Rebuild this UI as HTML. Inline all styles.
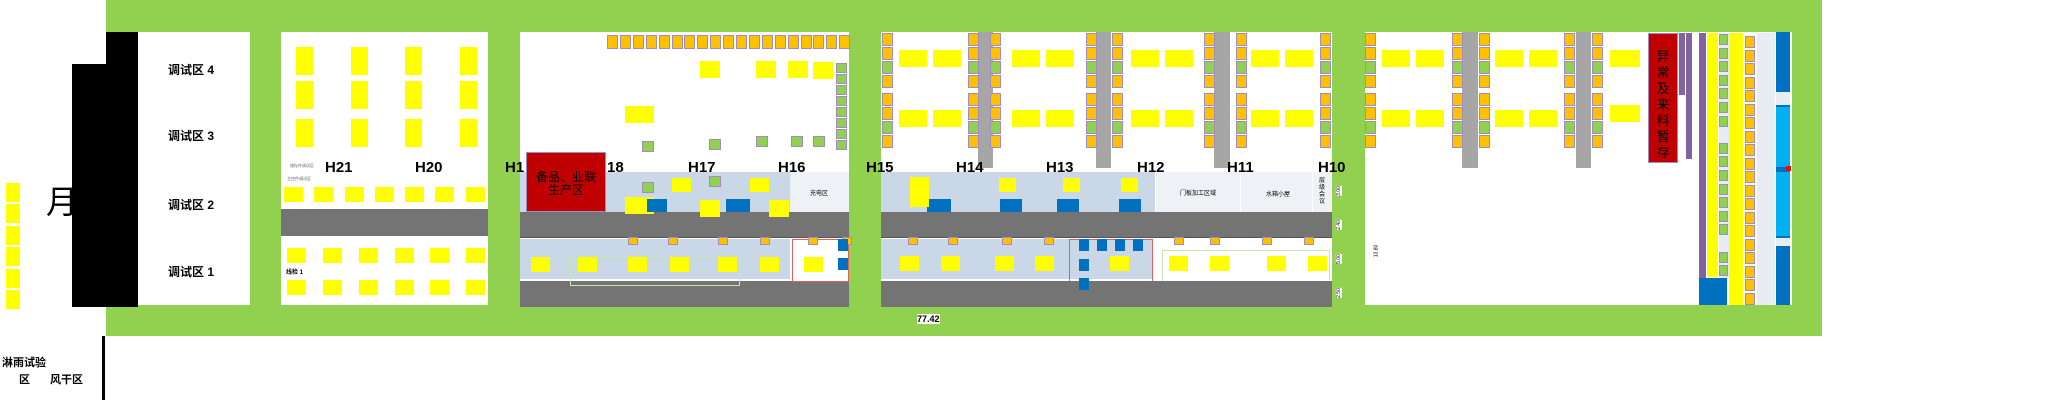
<!DOCTYPE html>
<html><head><meta charset="utf-8">
<style>
html,body{margin:0;padding:0;background:#fff;}
#root{position:relative;width:2048px;height:403px;overflow:hidden;background:#fff;font-family:"Liberation Sans","Noto Sans CJK SC",sans-serif;}
.a{position:absolute;box-sizing:border-box;}
.g{background:#92d050;}
.y{background:#ffff00;}
.o{background:#ffc000;border:1px solid #a08cc0;}
.gr{background:#92d050;border:1px solid #a08cc0;}
.band{background:#747474;}
.lb{background:#c9d7e6;}
.H{font-weight:bold;font-size:15px;color:#000;line-height:15px;}
</style></head><body>
<div id="root">
<div class="a g" style="left:106px;top:0;width:1716px;height:32px"></div>
<div class="a g" style="left:106px;top:305px;width:1716px;height:31px"></div>
<div class="a g" style="left:250px;top:32px;width:31px;height:273px"></div>
<div class="a g" style="left:488px;top:32px;width:32px;height:273px"></div>
<div class="a g" style="left:849px;top:32px;width:32px;height:273px"></div>
<div class="a g" style="left:1332px;top:32px;width:33px;height:273px"></div>
<div class="a g" style="left:1792px;top:32px;width:30px;height:273px"></div>
<div class="a" style="left:106px;top:32px;width:32px;height:40px;background:#000"></div>
<div class="a" style="left:72px;top:64px;width:66px;height:243px;background:#000"></div>
<div class="a" style="left:46px;top:184px;font-size:32px;line-height:36px">月</div>
<div class="a" style="left:168px;top:61px;font-size:12px;font-weight:bold">调试区 4</div>
<div class="a" style="left:168px;top:127px;font-size:12px;font-weight:bold">调试区 3</div>
<div class="a" style="left:168px;top:196px;font-size:12px;font-weight:bold">调试区 2</div>
<div class="a" style="left:168px;top:263px;font-size:12px;font-weight:bold">调试区 1</div>
<div class="a" style="left:102px;top:336px;width:3px;height:64px;background:#000"></div>
<div class="a" style="left:2px;top:354px;font-size:11px;font-weight:bold">淋雨试验</div>
<div class="a" style="left:19px;top:371px;font-size:11px;font-weight:bold">区</div>
<div class="a" style="left:50px;top:371px;font-size:11px;font-weight:bold">风干区</div>
<div class="a band" style="left:281px;top:209px;width:207px;height:27px"></div>
<div class="a" style="left:290px;top:163px;font-size:4px;color:#666">储存件调试区</div>
<div class="a" style="left:287px;top:176px;font-size:4px;color:#666">主控件调试区</div>
<div class="a" style="left:286px;top:267px;font-size:6px;font-weight:bold">线检 1</div>
<div class="a lb" style="left:520px;top:172px;width:270px;height:40px"></div>
<div class="a" style="left:790px;top:172px;width:59px;height:40px;background:#eef2f6"></div>
<div class="a" style="left:810px;top:188px;font-size:6px">充电区</div>
<div class="a band" style="left:520px;top:212px;width:329px;height:26px;border-bottom:1px solid #555"></div>
<div class="a lb" style="left:520px;top:239px;width:270px;height:40px"></div>
<div class="a band" style="left:520px;top:281px;width:329px;height:26px"></div>
<div class="a" style="left:526px;top:152px;width:80px;height:60px;background:#c00000;border:1px solid #a08cc0;color:#000;font-size:12px;text-align:center;padding-top:18px;line-height:13px">备品、业联<br>生产区</div>
<div class="a" style="left:792px;top:239px;width:57px;height:43px;border:1px solid #e06060"></div>
<div class="a" style="left:570px;top:256px;width:170px;height:30px;border:1px solid #c8e6b0"></div>
<div class="a lb" style="left:881px;top:172px;width:274px;height:40px"></div>
<div class="a" style="left:1156px;top:172px;width:84px;height:40px;background:#eef2f6"></div>
<div class="a" style="left:1180px;top:188px;font-size:6px">门板加工区域</div>
<div class="a" style="left:1241px;top:172px;width:71px;height:40px;background:#eef2f6"></div>
<div class="a" style="left:1266px;top:189px;font-size:6px">水箱小屋</div>
<div class="a" style="left:1313px;top:172px;width:18px;height:40px;background:#eef2f6;font-size:6px;text-align:center;line-height:7px;padding-top:6px">层<br>级<br>会<br>议</div>
<div class="a band" style="left:881px;top:212px;width:451px;height:26px;border-bottom:1px solid #555"></div>
<div class="a lb" style="left:881px;top:239px;width:271px;height:40px"></div>
<div class="a" style="left:1069px;top:239px;width:84px;height:43px;border:1px solid #e06060"></div>
<div class="a" style="left:1162px;top:250px;width:168px;height:32px;border:1px solid #c8e6b0"></div>
<div class="a band" style="left:881px;top:281px;width:451px;height:26px"></div>
<div class="a" style="left:978px;top:32px;width:15px;height:136px;background:#a6a6a6"></div>
<div class="a" style="left:1096px;top:32px;width:15px;height:136px;background:#a6a6a6"></div>
<div class="a" style="left:1214px;top:32px;width:16px;height:136px;background:#a6a6a6"></div>
<div class="a" style="left:1462px;top:32px;width:16px;height:136px;background:#a6a6a6"></div>
<div class="a" style="left:1576px;top:32px;width:15px;height:136px;background:#a6a6a6"></div>
<div class="a" style="left:1648px;top:33px;width:30px;height:130px;background:#c00000;border:1px solid #a08cc0;font-size:13px;text-align:center;line-height:16px;padding-top:15px">异<br>常<br>及<br>来<br>料<br>暂<br>存</div>
<div class="a" style="left:1679px;top:33px;width:6px;height:62px;background:#8064a2"></div>
<div class="a" style="left:1686px;top:33px;width:6px;height:126px;background:#8064a2"></div>
<div class="a" style="left:1699px;top:33px;width:7px;height:245px;background:#8064a2"></div>
<div class="a y" style="left:1707px;top:33px;width:11px;height:244px"></div>
<div class="a" style="left:1719px;top:33px;width:10px;height:245px;background:#e8ecf3"></div>
<div class="a y" style="left:1729px;top:33px;width:14px;height:272px"></div>
<div class="a" style="left:1757px;top:33px;width:18px;height:272px;background:#e8ecf3"></div>
<div class="a" style="left:1776px;top:32px;width:14px;height:273px;background:#0070c0"></div>
<div class="a" style="left:1776px;top:107px;width:14px;height:60px;background:#00b0f0"></div>
<div class="a" style="left:1776px;top:172px;width:14px;height:64px;background:#00b0f0"></div>
<div class="a" style="left:1776px;top:92px;width:14px;height:13px;background:#e8ecf3"></div>
<div class="a" style="left:1776px;top:238px;width:14px;height:8px;background:#e8ecf3"></div>
<div class="a" style="left:1699px;top:278px;width:28px;height:27px;background:#0070c0"></div>
<div class="a" style="left:1786px;top:166px;width:5px;height:5px;background:#f00"></div>
<div class="a" style="left:917px;top:314px;font-size:9px;background:#fff;font-weight:bold">77.42</div>
<div class="a" style="left:1370px;top:248px;font-size:5px;transform:rotate(-90deg)">13.80</div>
<div class="a" style="left:1334px;top:188px;font-size:5px;transform:rotate(-90deg);background:#fff">3.00</div>
<div class="a" style="left:1334px;top:222px;font-size:5px;transform:rotate(-90deg);background:#fff">2.40</div>
<div class="a" style="left:1334px;top:256px;font-size:5px;transform:rotate(-90deg);background:#fff">5.00</div>
<div class="a" style="left:1334px;top:290px;font-size:5px;transform:rotate(-90deg);background:#fff">2.50</div>
</div>
<script>
const root=document.getElementById('root');
function box(x,y,w,h,cls,name){
  const d=document.createElement('div');
  d.className='a '+cls;
  d.style.cssText='left:'+x+'px;top:'+y+'px;width:'+w+'px;height:'+h+'px';
  
  
  root.appendChild(d);return d;
}
function text(x,y,t,name){
  const d=document.createElement('div');
  d.className='a H';d.style.left=x+'px';d.style.top=y+'px';d.textContent=t;
  
  
  root.appendChild(d);
}
const leftYs=[183,204,226,247,269,290];
leftYs.forEach(y=>box(6,y,14,19,'y','left-yellow-station'));
const h21Cols=[296,351,405,460], h21Rows=[47,81,119];
h21Cols.forEach(x=>h21Rows.forEach(y=>box(x,y,17,28,'y','debug-machine')));
const rowXs=[284,314,345,375,405,435,466];
rowXs.forEach(x=>box(x,187,19,15,'y','debug-station'));
const r1=[287,323,359,395,430,466];
r1.forEach(x=>{box(x,248,19,15,'y','line-station');box(x,280,19,15,'y','line-station');});
for(let i=0;i<19;i++){box(607+i*12.9,35,11,14,'o','top-pallet');}
[[625,106,29,17],[625,197,29,17],[700,61,20,17],[700,200,20,17],[756,61,20,17],[788,61,20,17],[813,62,20,17],[769,200,20,17]].forEach(a=>box(a[0],a[1],a[2],a[3],'y','work-machine'));
[[642,141],[642,182],[709,139],[709,176],[756,136],[791,136],[813,136]].forEach(a=>box(a[0],a[1],12,11,'gr','small-green-station'));
for(let i=0;i<8;i++)box(836,63+i*11,11,10,'gr','side-green-station');
const palletCols=[882,968,990,1086,1112,1204,1236,1320,1365,1452,1479,1564,1592];
const pat=['o','o','gr','o','o','o','gr','o'];
const patY=[33,47,61,75,93,107,121,135];
palletCols.forEach(x=>pat.forEach((c,i)=>box(x,patY[i],11,13,c,'pallet')));
const pairX=[899,1012,1131,1251,1382,1495];
pairX.forEach(x=>[50,110].forEach(y=>{box(x,y,28,17,'y','assembly-machine');box(x+34,y,28,17,'y','assembly-machine');}));
[50,105].forEach(y=>box(1610,y,30,17,'y','assembly-machine'));
const lowO=[630,670,720,762,810,844];
lowO.forEach(x=>box(x-2,237,10,8,'o','orange-bin'));
[[531,257],[578,257],[628,257],[670,257],[718,257],[760,257],[804,257]].forEach(a=>box(a[0],a[1],19,15,'y','lower-station'));
[[672,178],[750,178]].forEach(a=>box(a[0],a[1],19,14,'y','upper-station'));
[[647,199,20,13],[726,199,24,13],[927,199,24,13],[1000,199,22,13],[1057,199,22,13],[1119,199,22,13]].forEach(a=>box(a[0],a[1],a[2],a[3],'','blue-equipment').style.background='#0070c0');
[[838,239],[838,258],[1079,239],[1097,239],[1115,239],[1133,239],[1079,259],[1079,278]].forEach(a=>box(a[0],a[1],10,12,'','blue-bin').style.background='#0070c0');
[[910,177,19,30],[999,178,17,14],[1063,178,17,14],[1121,178,17,14]].forEach(a=>box(a[0],a[1],a[2],a[3],'y','upper-station'));
[900,941,995,1035,1110,1169,1210,1267,1308].forEach(x=>box(x,256,19,15,'y','lower-station'));
[908,948,1002,1044,1174,1210,1262,1304].forEach(x=>box(x,237,10,8,'o','orange-bin'));
const hLabels=['H21','H20','H1','18','H17','H16','H15','H14','H13','H12','H11','H10'];
const hX=[325,415,505,607,688,778,866,956,1046,1137,1227,1318];
hLabels.forEach((t,i)=>text(hX[i],160,t,'hall-label'));
for(let i=0;i<20;i++)box(1745,36+i*13.5,10,12,'o','rack-pallet');
for(let i=0;i<18;i++)if(i!==7&&i!==15)box(1719,34+i*13.6,9,11,'gr','rack-green');
</script>
</body></html>
